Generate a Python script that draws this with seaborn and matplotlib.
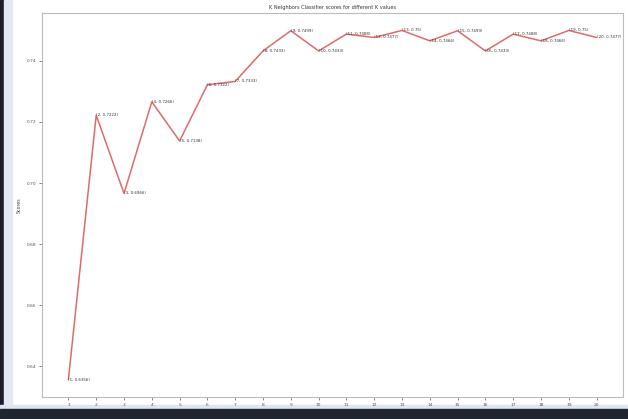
import matplotlib
matplotlib.use("Agg")
import matplotlib.pyplot as plt
import matplotlib.patches as mpatches
import pandas as pd
import seaborn as sns

# KNN accuracy for each neighbour count
k_values = list(range(1, 21))
scores = [0.6356, 0.7222, 0.6966, 0.7266, 0.7138, 0.7322, 0.7333, 0.7433, 0.7499, 0.7433,
          0.7488, 0.7477, 0.75, 0.7466, 0.7499, 0.7433, 0.7488, 0.7466, 0.75, 0.7477]

title = "K Neighbors Classifier scores for different K values"
x_label = "Number of Neighbors (K)"
y_label = "Scores"

sns.set_style("white")
plt.rcParams["font.family"] = ["DejaVu Sans"]

df = pd.DataFrame({"k": k_values, "score": scores})

fig = plt.figure(figsize=(6.28, 4.19), dpi=100)
ax = fig.add_axes([42 / 628, 1 - 397 / 419, 581 / 628, 384 / 419])

sns.lineplot(data=df, x="k", y="score", ax=ax, color="#e06a6a", linewidth=1.1)

for k, s in zip(k_values, scores):
    ax.text(k, s, f"({k}, {s})", fontsize=2.9, color="#333333",
            ha="left", va="center")

ax.set_xticks(k_values)
ax.set_yticks([0.64, 0.66, 0.68, 0.70, 0.72, 0.74])
ax.set_yticklabels(["0.64", "0.66", "0.68", "0.70", "0.72", "0.74"])
ax.tick_params(axis="both", labelsize=3.2, colors="#555555", length=2, width=0.5,
               bottom=True, left=True, pad=2)
ax.set_xlabel(x_label, fontsize=3.4, color="#444444", labelpad=2)
ax.set_ylabel(y_label, fontsize=3.4, color="#444444", labelpad=4)
ax.set_title(title, fontsize=3.6, color="#333333", pad=3)
for sp in ax.spines.values():
    sp.set_color("#bbbbbb")
    sp.set_linewidth(0.8)

# window frame around the plot
fig.patches.append(mpatches.Rectangle((0, 0), 4 / 628, 1, transform=fig.transFigure,
                                      color="#1c1f26", zorder=-1))
fig.patches.append(mpatches.Rectangle((4 / 628, 0), 8 / 628, 1, transform=fig.transFigure,
                                      color="#e4e8f4", zorder=-1))
fig.patches.append(mpatches.Rectangle((0, 0), 1, 10 / 419, transform=fig.transFigure,
                                      color="#1f2630", zorder=0))
fig.patches.append(mpatches.Rectangle((0, 10 / 419), 1, 4 / 419, transform=fig.transFigure,
                                      color="#dfe5f2", zorder=-1))

fig.savefig("out.png", dpi=100)
